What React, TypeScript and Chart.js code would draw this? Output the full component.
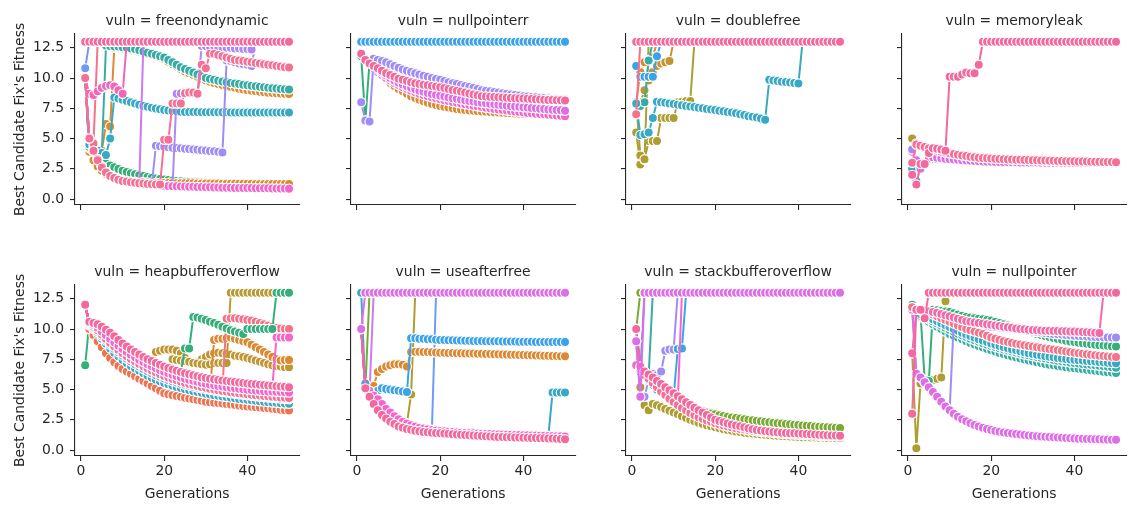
import React, { useEffect, useRef } from 'react';
import { Chart, registerables } from 'chart.js';

Chart.register(...registerables);

// ---------------- data ----------------
const generations = [
  1, 2, 3, 4, 5, 6, 7, 8, 9, 10, 11, 12, 13, 14, 15, 16, 17, 18, 19, 20,
  21, 22, 23, 24, 25, 26, 27, 28, 29, 30, 31, 32, 33, 34, 35, 36, 37, 38, 39, 40,
  41, 42, 43, 44, 45, 46, 47, 48, 49, 50,
];
const yTickValues = [0, 2.5, 5, 7.5, 10, 12.5];
const xTickValues = [0, 20, 40];
const facetVar = 'vuln';
const facetNames = [
  'freenondynamic', 'nullpointerr', 'doublefree', 'memoryleak',
  'heapbufferoverflow', 'useafterfree', 'stackbufferoverflow', 'nullpointer',
];
const xTitle = 'Generations';
const yTitle = "Best Candidate Fix's Fitness";

// --- freenondynamic ---
const fnd_olive = [
  10.0, 4.3, 3.4, 2.8, 2.4, 2.1, 1.85, 1.68, 1.55, 1.45,
  1.37, 1.3, 1.25, 1.2, 1.16, 1.13, 1.1, 1.08, 1.06, 1.04,
  1.03, 1.02, 1.01, 1.0, 1.0, 0.99, 0.99, 0.98, 0.98, 0.97,
  0.97, 0.96, 0.96, 0.95, 0.95, 0.95, 0.94, 0.94, 0.94, 0.93,
  0.93, 0.93, 0.92, 0.92, 0.92, 0.91, 0.91, 0.91, 0.9, 0.9,
];
const fnd_green = [
  10.0, 4.0, 3.7, 3.4, 3.15, 2.95, 2.78, 2.62, 2.48, 2.35,
  2.24, 2.14, 2.05, 1.97, 1.9, 1.83, 1.77, 1.71, 1.66, 1.61,
  1.57, 1.53, 1.5, 1.47, 1.44, 1.42, 1.4, 1.38, 1.36, 1.34,
  1.3, 1.29, 1.28, 1.27, 1.26, 1.25, 1.24, 1.23, 1.22, 1.21,
  1.2, 1.19, 1.18, 1.17, 1.16, 1.15, 1.14, 1.13, 1.12, 1.12,
];
const fnd_orangeLow = [
  10.0, 3.9, 3.2, 2.7, 2.35, 2.08, 1.88, 1.74, 1.63, 1.55,
  1.5, 1.46, 1.43, 1.41, 1.39, 1.37, 1.36, 1.35, 1.34, 1.33,
  1.32, 1.32, 1.31, 1.31, 1.3, 1.3, 1.3, 1.29, 1.29, 1.29,
  1.28, 1.28, 1.28, 1.27, 1.27, 1.27, 1.27, 1.26, 1.26, 1.26,
  1.26, 1.25, 1.25, 1.25, 1.25, 1.25, 1.24, 1.24, 1.24, 1.24,
];
const fnd_orange = [
  10.0, 4.2, 3.9, 3.7, 4.0, 6.2, 6.0, 12.5, 12.5, 12.45,
  12.4, 12.35, 12.3, 12.2, 12.1, 12.0, 11.9, 11.8, 11.7, 11.55,
  11.35, 11.15, 10.95, 10.75, 10.55, 10.4, 10.25, 10.1, 9.95, 9.8,
  9.7, 9.6, 9.5, 9.42, 9.34, 9.26, 9.19, 9.12, 9.06, 9.0,
  8.95, 8.9, 8.86, 8.82, 8.79, 8.76, 8.74, 8.72, 8.7, 8.68,
];
const fnd_teal = [
  10.0, 4.3, 4.1, 3.9, 3.8, 12.7, 12.65, 12.6, 12.6, 12.55,
  12.5, 12.45, 12.4, 12.3, 12.2, 12.1, 12.0, 11.9, 11.8, 11.7,
  11.5, 11.3, 11.1, 10.9, 10.75, 10.6, 10.45, 10.3, 10.15, 10.0,
  9.92, 9.85, 9.78, 9.72, 9.66, 9.6, 9.55, 9.5, 9.45, 9.4,
  9.36, 9.32, 9.28, 9.24, 9.2, 9.16, 9.13, 9.1, 9.07, 9.05,
];
const fnd_cyan = [
  10.0, 4.5, 4.3, 4.0, 3.8, 3.65, 5.0, 8.4, 8.3, 8.2,
  8.1, 8.0, 7.9, 7.8, 7.7, 7.62, 7.55, 7.48, 7.42, 7.36,
  7.32, 7.28, 7.25, 7.22, 7.2, 7.2, 7.19, 7.19, 7.18, 7.18,
  7.18, 7.17, 7.17, 7.17, 7.17, 7.16, 7.16, 7.16, 7.16, 7.16,
  7.15, 7.15, 7.15, 7.15, 7.15, 7.15, 7.15, 7.15, 7.15, 7.15,
];
const fnd_blue = [
  10.8, 13, 13, 13, 13, 13, 13, 13, 13, 13,
  13, 13, 13, 13, 13, 13, 13, 13, 13, 13,
  13, 13, 13, 13, 13, 13, 13, 13, 13, 13,
  13, 13, 13, 13, 13, 13, 13, 13, 13, 13,
  13, 13, 13, 13, 13, 13, 13, 13, 13, 13,
];
const fnd_purple = [
  10.0, 5.0, 4.0, 3.3, 2.7, 2.25, 1.95, 1.75, 1.6, 1.5,
  1.42, 1.36, 1.3, 1.26, 13, 13, 13, 13, 13, 13,
  13, 13, 13, 13, 13, 13, 13, 13, 13, 13,
  13, 13, 13, 13, 13, 13, 13, 13, 13, 13,
  13, 13, 13, 13, 13, 13, 13, 13, 13, 13,
];
const fnd_lavender = [
  10.0, 5.0, 4.0, 3.3, 2.7, 2.25, 1.95, 1.75, 1.6, 1.5,
  1.42, 1.36, 1.3, 1.26, 1.22, 1.19, 1.16, 4.4, 4.36, 4.32,
  4.28, 4.25, 4.22, 4.19, 4.16, 4.13, 4.1, 4.07, 4.04, 4.01,
  3.98, 3.95, 3.9, 3.85, 11.45, 11.4, 11.3, 11.2, 11.15, 11.1,
  11.0, 13, 13, 13, 13, 13, 13, 13, 13, 13,
];
const fnd_lilac = [
  10.0, 5.0, 4.0, 3.3, 2.7, 2.25, 1.95, 1.75, 1.6, 1.5,
  1.42, 1.36, 1.3, 1.26, 1.22, 1.19, 1.16, 1.14, 1.12, 1.1,
  1.08, 1.06, 8.7, 8.75, 8.8, 8.8, 8.75, 8.7, 12.65, 12.65,
  12.6, 12.6, 12.55, 12.55, 12.5, 12.5, 12.45, 12.45, 12.4, 12.4,
  12.35, 13, 13, 13, 13, 13, 13, 13, 13, 13,
];
const fnd_red = [
  10.0, 5.1, 4.6, 13, 13, 13, 13, 13, 13, 13,
  13, 13, 13, 13, 13, 13, 13, 13, 13, 13,
  13, 13, 13, 13, 13, 13, 13, 13, 13, 13,
  13, 13, 13, 13, 13, 13, 13, 13, 13, 13,
  13, 13, 13, 13, 13, 13, 13, 13, 13, 13,
];
const fnd_magenta = [
  10.0, 5.0, 4.0, 3.3, 2.7, 2.25, 1.95, 1.75, 1.6, 1.5,
  1.42, 1.36, 1.3, 1.26, 1.22, 1.19, 1.16, 1.14, 1.12, 1.1,
  1.08, 1.06, 1.05, 1.04, 1.03, 1.02, 1.01, 1.0, 0.99, 0.98,
  0.97, 0.96, 0.95, 0.94, 0.935, 0.93, 0.925, 0.92, 0.915, 0.91,
  0.905, 0.9, 0.895, 0.89, 0.885, 0.88, 0.875, 0.87, 0.865, 0.86,
];
const fnd_rose = [
  10.0, 8.7, 8.6, 8.9, 9.2, 9.35, 9.4, 9.3, 9.0, 8.7,
  13, 13, 13, 13, 13, 13, 13, 13, 13, 13,
  13, 13, 13, 13, 13, 13, 13, 13, 13, 13,
  13, 13, 13, 13, 13, 13, 13, 13, 13, 13,
  13, 13, 13, 13, 13, 13, 13, 13, 13, 13,
];
const fnd_pink2 = [
  10.0, 5.0, 4.0, 3.2, 2.6, 2.2, 1.9, 1.75, 1.6, 1.5,
  1.45, 1.4, 1.35, 1.3, 1.28, 1.25, 1.22, 1.2, 1.2, 4.9,
  4.9, 7.9, 7.9, 7.9, 8.75, 8.8, 8.8, 8.7, 11.1, 10.8,
  12.0, 12.0, 11.9, 11.8, 11.7, 11.6, 11.5, 11.45, 11.4, 11.35,
  11.3, 11.25, 11.2, 11.15, 11.1, 11.05, 11.0, 10.95, 10.9, 10.88,
];
const fnd_top = [
  13, 13, 13, 13, 13, 13, 13, 13, 13, 13,
  13, 13, 13, 13, 13, 13, 13, 13, 13, 13,
  13, 13, 13, 13, 13, 13, 13, 13, 13, 13,
  13, 13, 13, 13, 13, 13, 13, 13, 13, 13,
  13, 13, 13, 13, 13, 13, 13, 13, 13, 13,
];

// --- nullpointerr ---
const npr_orange = [
  12.0, 11.4, 11.1, 10.8, 10.5, 10.2, 9.9, 9.6, 9.35, 9.1,
  8.9, 8.7, 8.5, 8.35, 8.2, 8.08, 7.96, 7.86, 7.77, 7.69,
  7.62, 7.56, 7.5, 7.45, 7.4, 7.36, 7.32, 7.29, 7.26, 7.23,
  7.21, 7.19, 7.17, 7.15, 7.13, 7.11, 7.09, 7.07, 7.05, 7.04,
  7.02, 7.0, 6.99, 6.97, 6.96, 6.94, 6.93, 6.91, 6.9, 6.89,
];
const npr_magenta2 = [
  12.0, 11.4, 11.1, 10.8, 10.5, 10.25, 10.0, 9.8, 9.6, 9.42,
  9.25, 9.1, 8.96, 8.83, 8.71, 8.6, 8.5, 8.41, 8.33, 8.25,
  8.17, 8.1, 8.03, 7.96, 7.9, 7.84, 7.78, 7.72, 7.66, 7.6,
  7.55, 7.5, 7.45, 7.4, 7.36, 7.32, 7.28, 7.24, 7.2, 7.16,
  7.12, 7.09, 7.06, 7.03, 7.0, 6.97, 6.94, 6.91, 6.88, 6.85,
];
const npr_magenta = [
  12.0, 11.45, 11.2, 10.95, 10.7, 10.45, 10.22, 10.0, 9.8, 9.62,
  9.46, 9.32, 9.19, 9.07, 8.96, 8.86, 8.77, 8.69, 8.61, 8.54,
  8.47, 8.4, 8.34, 8.28, 8.22, 8.16, 8.11, 8.06, 8.01, 7.96,
  7.92, 7.88, 7.84, 7.8, 7.76, 7.72, 7.68, 7.65, 7.62, 7.59,
  7.56, 7.53, 7.5, 7.47, 7.44, 7.41, 7.38, 7.36, 7.33, 7.3,
];
const npr_green = [
  11.8, 6.5, 11.3, 11.2, 11.05, 10.9, 10.75, 10.6, 10.45, 10.3,
  10.2, 10.1, 10.0, 9.9, 9.8, 9.72, 9.64, 9.56, 9.48, 9.4,
  9.32, 9.25, 9.18, 9.1, 9.03, 8.96, 8.9, 8.84, 8.78, 8.72,
  8.67, 8.62, 8.58, 8.54, 8.5, 8.47, 8.44, 8.41, 8.38, 8.36,
  8.34, 8.32, 8.3, 8.28, 8.26, 8.25, 8.24, 8.23, 8.22, 8.21,
];
const npr_lavender = [
  8.0, 6.5, 6.4, 11.6, 11.5, 11.4, 11.3, 11.15, 11.0, 10.85,
  10.7, 10.6, 10.5, 10.4, 10.3, 10.2, 10.1, 10.0, 9.92, 9.85,
  9.75, 9.65, 9.58, 9.5, 9.42, 9.35, 9.28, 9.2, 9.1, 9.0,
  8.95, 8.9, 8.85, 8.8, 8.75, 8.7, 8.65, 8.6, 8.55, 8.5,
  8.47, 8.44, 8.41, 8.38, 8.35, 8.32, 8.29, 8.26, 8.23, 8.2,
];
const npr_pink = [
  12.0, 11.5, 11.2, 11.0, 10.8, 10.6, 10.4, 10.25, 10.1, 9.95,
  9.85, 9.75, 9.65, 9.58, 9.5, 9.45, 9.4, 9.35, 9.3, 9.25,
  9.17, 9.1, 9.02, 8.95, 8.88, 8.8, 8.72, 8.65, 8.58, 8.5,
  8.48, 8.46, 8.44, 8.42, 8.4, 8.38, 8.36, 8.34, 8.32, 8.3,
  8.28, 8.26, 8.24, 8.22, 8.2, 8.19, 8.18, 8.17, 8.16, 8.15,
];
const npr_top = [
  13, 13, 13, 13, 13, 13, 13, 13, 13, 13,
  13, 13, 13, 13, 13, 13, 13, 13, 13, 13,
  13, 13, 13, 13, 13, 13, 13, 13, 13, 13,
  13, 13, 13, 13, 13, 13, 13, 13, 13, 13,
  13, 13, 13, 13, 13, 13, 13, 13, 13, 13,
];

// --- doublefree ---
const df_olive = [
  5.5, 2.85, 3.25, 4.8, 4.8, 4.8, 6.7, 6.7, 6.7, 6.7,
  8.0, 8.05, 8.1, 8.1, 13, 13, 13, 13, 13, 13,
  13, 13, 13, 13, 13, 13, 13, 13, 13, 13,
  13, 13, 13, 13, 13, 13, 13, 13, 13, 13,
  13, 13, 13, 13, 13, 13, 13, 13, 13, 13,
];
const df_olive2 = [
  8.0, 3.6, 3.3, 13, 13, 13, 13, 13, 13, 13,
  13, 13, 13, 13, 13, 13, 13, 13, 13, 13,
  13, 13, 13, 13, 13, 13, 13, 13, 13, 13,
  13, 13, 13, 13, 13, 13, 13, 13, 13, 13,
  13, 13, 13, 13, 13, 13, 13, 13, 13, 13,
];
const df_ochre = [
  8.0, 8.0, 9.0, 9.8, 10.5, 11.0, 11.2, 11.3, 11.4, 13,
  13, 13, 13, 13, 13, 13, 13, 13, 13, 13,
  13, 13, 13, 13, 13, 13, 13, 13, 13, 13,
  13, 13, 13, 13, 13, 13, 13, 13, 13, 13,
  13, 13, 13, 13, 13, 13, 13, 13, 13, 13,
];
const df_orange = [
  8.0, 10.5, 11.3, 11.5, 11.7, 13, 13, 13, 13, 13,
  13, 13, 13, 13, 13, 13, 13, 13, 13, 13,
  13, 13, 13, 13, 13, 13, 13, 13, 13, 13,
  13, 13, 13, 13, 13, 13, 13, 13, 13, 13,
  13, 13, 13, 13, 13, 13, 13, 13, 13, 13,
];
const df_teal = [
  8.0, 7.7, 8.0, 11.45, 13, 13, 13, 13, 13, 13,
  13, 13, 13, 13, 13, 13, 13, 13, 13, 13,
  13, 13, 13, 13, 13, 13, 13, 13, 13, 13,
  13, 13, 13, 13, 13, 13, 13, 13, 13, 13,
  13, 13, 13, 13, 13, 13, 13, 13, 13, 13,
];
const df_cyan = [
  7.9, 5.3, 5.35, 5.5, 6.7, 8.05, 8.0, 7.95, 7.9, 7.85,
  7.8, 7.75, 7.7, 7.65, 7.6, 7.55, 7.5, 7.45, 7.4, 7.35,
  7.3, 7.25, 7.2, 7.15, 7.1, 7.0, 6.95, 6.85, 6.8, 6.75,
  6.65, 6.55, 9.85, 9.8, 9.75, 9.7, 9.67, 9.63, 9.6, 9.55,
  13, 13, 13, 13, 13, 13, 13, 13, 13, 13,
];
const df_azure = [
  11.0, 10.1, 10.1, 10.1, 10.1, 11.8, 13, 13, 13, 13,
  13, 13, 13, 13, 13, 13, 13, 13, 13, 13,
  13, 13, 13, 13, 13, 13, 13, 13, 13, 13,
  13, 13, 13, 13, 13, 13, 13, 13, 13, 13,
  13, 13, 13, 13, 13, 13, 13, 13, 13, 13,
];
const df_red = [
  7.0, 13, 13, 13, 13, 13, 13, 13, 13, 13,
  13, 13, 13, 13, 13, 13, 13, 13, 13, 13,
  13, 13, 13, 13, 13, 13, 13, 13, 13, 13,
  13, 13, 13, 13, 13, 13, 13, 13, 13, 13,
  13, 13, 13, 13, 13, 13, 13, 13, 13, 13,
];
const df_top = [
  13, 13, 13, 13, 13, 13, 13, 13, 13, 13,
  13, 13, 13, 13, 13, 13, 13, 13, 13, 13,
  13, 13, 13, 13, 13, 13, 13, 13, 13, 13,
  13, 13, 13, 13, 13, 13, 13, 13, 13, 13,
  13, 13, 13, 13, 13, 13, 13, 13, 13, 13,
];

// --- memoryleak ---
const ml_cyan = [
  2.5, 1.5, 2.6, 3.0, 3.2, 3.3, 3.3, 3.3, 3.28, 3.26,
  3.24, 3.22, 3.2, 3.19, 3.18, 3.17, 3.16, 3.15, 3.14, 3.13,
  3.12, 3.11, 3.1, 3.1, 3.09, 3.08, 3.08, 3.07, 3.06, 3.06,
  3.05, 3.05, 3.04, 3.04, 3.03, 3.03, 3.02, 3.02, 3.01, 3.01,
  3.0, 3.0, 3.0, 2.99, 2.99, 2.99, 2.98, 2.98, 2.98, 2.97,
];
const ml_olive = [
  5.0, 4.4, 4.3, 4.2, 4.1, 4.0, 3.92, 3.85, 3.78, 3.72,
  3.66, 3.6, 3.55, 3.5, 3.46, 3.42, 3.39, 3.36, 3.34, 3.32,
  3.3, 3.28, 3.26, 3.25, 3.24, 3.23, 3.22, 3.21, 3.2, 3.19,
  3.18, 3.17, 3.16, 3.15, 3.14, 3.14, 3.13, 3.12, 3.12, 3.11,
  3.1, 3.1, 3.09, 3.09, 3.08, 3.08, 3.07, 3.07, 3.06, 3.06,
];
const ml_magenta = [
  3.9, 3.2, 2.5, 3.0, 3.35, 3.45, 3.42, 3.38, 3.34, 3.3,
  3.27, 3.24, 3.21, 3.18, 3.16, 3.14, 3.12, 3.1, 3.09, 3.08,
  3.07, 3.06, 3.05, 3.05, 3.04, 3.04, 3.03, 3.03, 3.02, 3.02,
  3.02, 3.01, 3.01, 3.01, 3.0, 3.0, 3.0, 3.0, 2.99, 2.99,
  2.99, 2.99, 2.98, 2.98, 2.98, 2.98, 2.97, 2.97, 2.97, 2.97,
];
const ml_lavender = [
  4.1, 4.6, 4.45, 4.35, 4.25, 4.15, 4.05, 3.97, 3.9, 3.83,
  3.77, 3.71, 3.65, 3.6, 3.55, 3.51, 3.47, 3.44, 3.41, 3.39,
  3.37, 3.35, 3.33, 3.31, 3.29, 3.28, 3.27, 3.26, 3.25, 3.24,
  3.23, 3.22, 3.21, 3.2, 3.19, 3.18, 3.17, 3.16, 3.15, 3.15,
  3.14, 3.13, 3.13, 3.12, 3.11, 3.11, 3.1, 3.09, 3.09, 3.08,
];
const ml_pink2 = [
  3.0, 4.5, 4.4, 4.3, 4.2, 4.1, 4.0, 3.92, 3.85, 3.78,
  3.72, 3.66, 3.6, 3.55, 3.5, 3.46, 3.42, 3.4, 3.38, 3.36,
  3.34, 3.32, 3.3, 3.28, 3.26, 3.25, 3.24, 3.23, 3.22, 3.21,
  3.2, 3.19, 3.18, 3.17, 3.16, 3.15, 3.14, 3.13, 3.12, 3.12,
  3.11, 3.1, 3.1, 3.09, 3.08, 3.08, 3.07, 3.06, 3.06, 3.05,
];
const ml_pinkUp = [
  2.0, 1.2, 2.9, 2.9, 3.8, 4.2, 4.15, 4.1, 4.0, 10.1,
  10.1, 10.1, 10.3, 10.45, 10.4, 10.4, 11.1, 13, 13, 13,
  13, 13, 13, 13, 13, 13, 13, 13, 13, 13,
  13, 13, 13, 13, 13, 13, 13, 13, 13, 13,
  13, 13, 13, 13, 13, 13, 13, 13, 13, 13,
];

// --- heapbufferoverflow ---
const hb_ochre1 = [
  12.0, 10.5, 10.35, 10.1, 9.8, 9.5, 9.2, 8.9, 8.62, 8.35,
  8.1, 7.87, 7.66, 7.46, 7.27, 7.09, 6.92, 8.1, 8.2, 8.3,
  8.3, 8.3, 8.2, 8.0, 7.6, 7.3, 7.25, 7.3, 7.5, 7.7,
  7.9, 8.0, 8.05, 8.0, 7.95, 7.9, 7.8, 7.75, 7.7, 7.6,
  7.5, 7.4, 7.3, 7.2, 7.1, 7.0, 6.95, 6.9, 6.85, 6.85,
];
const hb_ochre2 = [
  12.0, 10.4, 10.2, 9.9, 9.55, 9.2, 8.87, 8.56, 8.27, 8.0,
  7.75, 7.52, 7.31, 7.11, 6.92, 6.74, 6.57, 6.41, 6.26, 6.12,
  5.99, 7.5, 7.45, 7.4, 7.35, 7.3, 7.2, 7.15, 7.1, 7.05,
  7.1, 7.2, 7.2, 7.2, 7.2, 13, 13, 13, 13, 13,
  13, 13, 13, 13, 13, 13, 13, 13, 13, 13,
];
const hb_orange = [
  12.0, 10.35, 10.1, 9.75, 9.4, 9.05, 8.7, 8.38, 8.08, 7.8,
  7.55, 7.31, 7.1, 6.9, 6.7, 6.52, 6.35, 6.19, 6.05, 5.92,
  5.8, 5.69, 5.59, 5.49, 5.4, 5.32, 5.24, 5.17, 5.1, 5.03,
  4.97, 9.1, 9.2, 9.2, 9.25, 9.3, 9.2, 9.1, 9.0, 8.9,
  8.7, 8.5, 8.3, 8.1, 7.9, 7.7, 7.5, 7.4, 7.45, 7.45,
];
const hb_pinkred = [
  12.0, 10.5, 10.35, 10.1, 9.8, 9.5, 9.2, 8.9, 8.62, 8.35,
  8.1, 7.87, 7.66, 7.46, 7.27, 7.09, 6.92, 6.76, 6.61, 6.47,
  6.34, 6.22, 6.11, 6.0, 5.9, 5.81, 5.72, 5.64, 5.56, 5.49,
  5.42, 5.36, 5.3, 5.25, 10.85, 10.9, 10.9, 10.85, 10.8, 10.75,
  10.7, 10.6, 10.5, 10.4, 10.3, 10.2, 10.1, 10.05, 10.0, 10.0,
];
const hb_green = [
  7.0, 10.6, 10.5, 10.4, 10.2, 9.95, 9.7, 9.4, 9.1, 8.8,
  8.55, 8.3, 8.1, 7.9, 7.7, 7.5, 7.35, 7.2, 7.05, 6.9,
  6.78, 6.66, 6.55, 6.45, 8.4, 8.4, 11.0, 10.95, 10.85, 10.75,
  10.6, 10.5, 10.35, 10.2, 10.05, 9.9, 9.8, 9.7, 9.6, 10.0,
  10.0, 10.0, 10.0, 10.0, 10.0, 10.0, 13, 13, 13, 13,
];
const hb_magenta2 = [
  12.0, 10.55, 10.4, 10.2, 9.95, 9.7, 9.45, 9.18, 8.9, 8.63,
  8.38, 8.14, 7.92, 7.72, 7.52, 7.34, 7.17, 7.01, 6.86, 6.72,
  6.59, 6.47, 6.36, 6.26, 6.16, 6.07, 5.99, 5.91, 5.84, 5.77,
  5.71, 5.66, 5.61, 5.56, 5.52, 5.48, 5.45, 5.42, 5.39, 5.37,
  5.35, 5.33, 5.31, 5.29, 5.28, 5.27, 9.3, 9.3, 9.3, 9.3,
];
const hb_red = [
  12.0, 10.0, 9.5, 9.0, 8.5, 8.0, 7.6, 7.25, 6.95, 6.7,
  6.5, 6.3, 6.1, 5.9, 5.7, 5.5, 5.3, 5.1, 4.9, 4.7,
  4.62, 4.54, 4.47, 4.4, 4.33, 4.26, 4.2, 4.14, 4.08, 4.0,
  3.96, 3.92, 3.88, 3.84, 3.8, 3.76, 3.72, 3.68, 3.64, 3.6,
  3.57, 3.54, 3.51, 3.48, 3.45, 3.42, 3.38, 3.34, 3.3, 3.27,
];
const hb_cyan = [
  12.0, 10.3, 10.0, 9.6, 9.2, 8.8, 8.4, 8.05, 7.75, 7.45,
  7.2, 6.95, 6.75, 6.55, 6.35, 6.15, 5.98, 5.82, 5.68, 5.55,
  5.43, 5.32, 5.22, 5.12, 5.03, 4.95, 4.87, 4.8, 4.73, 4.66,
  4.6, 4.54, 4.48, 4.43, 4.38, 4.33, 4.28, 4.23, 4.19, 4.15,
  4.11, 4.07, 4.03, 4.0, 3.96, 3.93, 3.9, 3.87, 3.85, 3.82,
];
const hb_blue = [
  12.0, 10.35, 10.1, 9.75, 9.4, 9.05, 8.7, 8.38, 8.08, 7.8,
  7.55, 7.31, 7.1, 6.9, 6.7, 6.52, 6.35, 6.19, 6.05, 5.92,
  5.8, 5.69, 5.59, 5.49, 5.4, 5.32, 5.24, 5.17, 5.1, 5.03,
  4.97, 4.91, 4.85, 4.8, 4.75, 4.7, 4.65, 4.6, 4.56, 4.52,
  4.48, 4.44, 4.4, 4.37, 4.34, 4.31, 4.28, 4.25, 4.22, 4.2,
];
const hb_pink2 = [
  12.0, 10.4, 10.2, 9.9, 9.55, 9.2, 8.87, 8.56, 8.27, 8.0,
  7.75, 7.52, 7.31, 7.11, 6.92, 6.74, 6.57, 6.41, 6.26, 6.12,
  5.99, 5.87, 5.76, 5.65, 5.55, 5.46, 5.37, 5.29, 5.21, 5.14,
  5.07, 5.0, 4.94, 4.88, 4.83, 4.78, 4.73, 4.69, 4.65, 4.61,
  4.57, 4.53, 4.5, 4.47, 4.44, 4.41, 4.38, 4.35, 4.32, 4.3,
];
const hb_magenta = [
  12.0, 10.5, 10.35, 10.1, 9.8, 9.5, 9.2, 8.9, 8.62, 8.35,
  8.1, 7.87, 7.66, 7.46, 7.27, 7.09, 6.92, 6.76, 6.61, 6.47,
  6.34, 6.22, 6.11, 6.0, 5.9, 5.81, 5.72, 5.64, 5.56, 5.49,
  5.42, 5.36, 5.3, 5.25, 5.2, 5.15, 5.11, 5.07, 5.03, 4.99,
  4.96, 4.93, 4.9, 4.87, 4.85, 4.83, 4.81, 4.79, 4.77, 4.75,
];
const hb_pink = [
  12.0, 10.6, 10.5, 10.4, 10.2, 9.95, 9.7, 9.4, 9.1, 8.8,
  8.55, 8.3, 8.1, 7.9, 7.7, 7.5, 7.35, 7.2, 7.05, 6.9,
  6.78, 6.66, 6.55, 6.45, 6.35, 6.26, 6.18, 6.1, 6.02, 5.95,
  5.9, 5.85, 5.8, 5.75, 5.7, 5.66, 5.62, 5.58, 5.54, 5.5,
  5.46, 5.43, 5.4, 5.37, 5.34, 5.31, 5.28, 5.25, 5.23, 5.2,
];

// --- useafterfree ---
const uf_olive = [
  10.0, 5.0, 4.9, 4.5, 4.2, 3.8, 3.4, 3.1, 2.8, 2.55,
  2.35, 2.2, 4.6, 13, 13, 13, 13, 13, 13, 13,
  13, 13, 13, 13, 13, 13, 13, 13, 13, 13,
  13, 13, 13, 13, 13, 13, 13, 13, 13, 13,
  13, 13, 13, 13, 13, 13, 13, 13, 13, 13,
];
const uf_green = [
  10.0, 5.0, 13, 13, 13, 13, 13, 13, 13, 13,
  13, 13, 13, 13, 13, 13, 13, 13, 13, 13,
  13, 13, 13, 13, 13, 13, 13, 13, 13, 13,
  13, 13, 13, 13, 13, 13, 13, 13, 13, 13,
  13, 13, 13, 13, 13, 13, 13, 13, 13, 13,
];
const uf_purple = [
  10.0, 5.0, 4.7, 13, 13, 13, 13, 13, 13, 13,
  13, 13, 13, 13, 13, 13, 13, 13, 13, 13,
  13, 13, 13, 13, 13, 13, 13, 13, 13, 13,
  13, 13, 13, 13, 13, 13, 13, 13, 13, 13,
  13, 13, 13, 13, 13, 13, 13, 13, 13, 13,
];
const uf_blue = [
  10.0, 5.0, 4.9, 4.5, 4.2, 3.8, 3.4, 3.1, 2.8, 2.55,
  2.35, 2.2, 2.05, 1.95, 1.85, 1.78, 1.72, 1.66, 13, 13,
  13, 13, 13, 13, 13, 13, 13, 13, 13, 13,
  13, 13, 13, 13, 13, 13, 13, 13, 13, 13,
  13, 13, 13, 13, 13, 13, 13, 13, 13, 13,
];
const uf_orange = [
  10.0, 5.0, 4.7, 5.3, 6.45, 6.7, 6.9, 7.0, 7.1, 7.1,
  7.05, 6.9, 8.1, 8.12, 8.12, 8.1, 8.1, 8.08, 8.06, 8.05,
  8.04, 8.03, 8.02, 8.01, 8.0, 7.99, 7.98, 7.97, 7.96, 7.95,
  7.94, 7.93, 7.92, 7.91, 7.9, 7.89, 7.88, 7.87, 7.86, 7.85,
  7.84, 7.83, 7.82, 7.81, 7.8, 7.79, 7.78, 7.77, 7.76, 7.75,
];
const uf_azure = [
  10.0, 5.5, 4.5, 4.2, 4.9, 5.1, 5.05, 5.0, 4.95, 4.9,
  4.85, 4.8, 9.25, 9.25, 9.2, 9.2, 9.15, 9.15, 9.12, 9.1,
  9.09, 9.08, 9.07, 9.06, 9.05, 9.04, 9.03, 9.02, 9.02, 9.01,
  9.0, 9.0, 8.99, 8.99, 8.98, 8.98, 8.97, 8.97, 8.96, 8.96,
  8.95, 8.95, 8.94, 8.94, 8.93, 8.93, 8.93, 8.92, 8.92, 8.92,
];
const uf_cyan = [
  13, 5.0, 4.9, 4.5, 4.2, 3.8, 3.4, 3.1, 2.8, 2.55,
  2.35, 2.2, 2.05, 1.95, 1.85, 1.78, 1.72, 1.66, 1.62, 1.58,
  1.55, 1.52, 1.49, 1.46, 1.44, 1.42, 1.4, 1.38, 1.36, 1.35,
  1.33, 1.32, 1.3, 1.29, 1.28, 1.27, 1.26, 1.25, 1.24, 1.23,
  1.22, 1.21, 1.2, 1.19, 1.18, 1.17, 4.75, 4.75, 4.75, 4.75,
];
const uf_magenta = [
  10.0, 5.0, 4.9, 4.5, 4.2, 3.8, 3.4, 3.1, 2.8, 2.55,
  2.35, 2.2, 2.05, 1.95, 1.85, 1.78, 1.72, 1.66, 1.62, 1.58,
  1.55, 1.52, 1.49, 1.46, 1.44, 1.42, 1.4, 1.38, 1.36, 1.35,
  1.33, 1.32, 1.3, 1.29, 1.28, 1.27, 1.26, 1.25, 1.24, 1.23,
  1.22, 1.21, 1.2, 1.19, 1.18, 1.17, 1.16, 1.15, 1.14, 1.13,
];
const uf_pink = [
  10.0, 5.1, 4.4, 3.8, 3.3, 2.9, 2.6, 2.35, 2.15, 1.95,
  1.85, 1.75, 1.67, 1.6, 1.55, 1.5, 1.47, 1.44, 1.42, 1.4,
  1.37, 1.34, 1.31, 1.28, 1.26, 1.24, 1.22, 1.2, 1.18, 1.16,
  1.14, 1.12, 1.1, 1.09, 1.08, 1.06, 1.05, 1.04, 1.03, 1.02,
  1.01, 1.0, 0.99, 0.98, 0.97, 0.96, 0.95, 0.93, 0.92, 0.9,
];
const uf_top = [
  10.0, 13, 13, 13, 13, 13, 13, 13, 13, 13,
  13, 13, 13, 13, 13, 13, 13, 13, 13, 13,
  13, 13, 13, 13, 13, 13, 13, 13, 13, 13,
  13, 13, 13, 13, 13, 13, 13, 13, 13, 13,
  13, 13, 13, 13, 13, 13, 13, 13, 13, 13,
];

// --- stackbufferoverflow ---
const sb_green1 = [
  10.0, 13, 13, 13, 13, 13, 13, 13, 13, 13,
  13, 13, 13, 13, 13, 13, 13, 13, 13, 13,
  13, 13, 13, 13, 13, 13, 13, 13, 13, 13,
  13, 13, 13, 13, 13, 13, 13, 13, 13, 13,
  13, 13, 13, 13, 13, 13, 13, 13, 13, 13,
];
const sb_teal = [
  10.0, 6.9, 6.5, 6.2, 13, 13, 13, 13, 13, 13,
  13, 13, 13, 13, 13, 13, 13, 13, 13, 13,
  13, 13, 13, 13, 13, 13, 13, 13, 13, 13,
  13, 13, 13, 13, 13, 13, 13, 13, 13, 13,
  13, 13, 13, 13, 13, 13, 13, 13, 13, 13,
];
const sb_azure1 = [
  10.0, 6.5, 13, 13, 13, 13, 13, 13, 13, 13,
  13, 13, 13, 13, 13, 13, 13, 13, 13, 13,
  13, 13, 13, 13, 13, 13, 13, 13, 13, 13,
  13, 13, 13, 13, 13, 13, 13, 13, 13, 13,
  13, 13, 13, 13, 13, 13, 13, 13, 13, 13,
];
const sb_olive = [
  9.0, 5.2, 3.7, 3.3, 3.8, 3.7, 3.55, 3.4, 3.25, 3.1,
  2.95, 2.8, 2.65, 2.5, 2.38, 2.26, 2.15, 2.05, 1.96, 1.88,
  1.8, 1.73, 1.66, 1.6, 1.54, 1.49, 1.44, 1.4, 1.36, 1.32,
  1.29, 1.26, 1.23, 1.2, 1.18, 1.16, 1.14, 1.12, 1.1, 1.08,
  1.06, 1.05, 1.04, 1.03, 1.02, 1.01, 1.0, 0.99, 0.98, 0.97,
];
const sb_lavender = [
  9.0, 4.4, 4.4, 5.8, 6.3, 6.2, 6.5, 8.2, 8.3, 8.3,
  13, 13, 13, 13, 13, 13, 13, 13, 13, 13,
  13, 13, 13, 13, 13, 13, 13, 13, 13, 13,
  13, 13, 13, 13, 13, 13, 13, 13, 13, 13,
  13, 13, 13, 13, 13, 13, 13, 13, 13, 13,
];
const sb_azure = [
  10.0, 6.9, 6.3, 5.8, 5.4, 5.0, 4.8, 4.6, 4.5, 4.4,
  8.35, 8.4, 13, 13, 13, 13, 13, 13, 13, 13,
  13, 13, 13, 13, 13, 13, 13, 13, 13, 13,
  13, 13, 13, 13, 13, 13, 13, 13, 13, 13,
  13, 13, 13, 13, 13, 13, 13, 13, 13, 13,
];
const sb_magenta = [
  7.0, 6.7, 6.3, 5.9, 5.6, 5.3, 5.0, 4.75, 4.5, 4.25,
  4.0, 13, 13, 13, 13, 13, 13, 13, 13, 13,
  13, 13, 13, 13, 13, 13, 13, 13, 13, 13,
  13, 13, 13, 13, 13, 13, 13, 13, 13, 13,
  13, 13, 13, 13, 13, 13, 13, 13, 13, 13,
];
const sb_green2 = [
  9.0, 6.8, 6.4, 6.1, 5.8, 5.5, 5.2, 4.95, 4.7, 4.45,
  4.22, 4.0, 3.8, 3.62, 3.45, 3.32, 3.2, 3.1, 3.02, 2.95,
  2.88, 2.82, 2.76, 2.7, 2.65, 2.6, 2.55, 2.5, 2.46, 2.42,
  2.38, 2.34, 2.3, 2.26, 2.22, 2.19, 2.16, 2.13, 2.1, 2.07,
  2.04, 2.01, 1.98, 1.95, 1.93, 1.91, 1.89, 1.87, 1.85, 1.83,
];
const sb_pink2 = [
  10.0, 6.7, 6.2, 5.9, 5.55, 5.2, 4.85, 4.55, 4.25, 3.98,
  3.72, 3.48, 3.26, 3.06, 2.88, 2.72, 2.58, 2.45, 2.33, 2.22,
  2.12, 2.03, 1.95, 1.88, 1.81, 1.75, 1.69, 1.64, 1.59, 1.55,
  1.51, 1.47, 1.44, 1.41, 1.38, 1.35, 1.33, 1.31, 1.29, 1.27,
  1.25, 1.23, 1.21, 1.19, 1.17, 1.16, 1.15, 1.14, 1.13, 1.12,
];
const sb_pink = [
  10.0, 6.9, 6.5, 6.25, 6.0, 5.7, 5.45, 5.2, 4.95, 4.7,
  4.45, 4.2, 3.95, 3.72, 3.5, 3.3, 3.1, 2.9, 2.7, 2.5,
  2.4, 2.3, 2.2, 2.12, 2.04, 1.96, 1.88, 1.8, 1.73, 1.66,
  1.62, 1.58, 1.54, 1.5, 1.47, 1.44, 1.42, 1.4, 1.38, 1.36,
  1.34, 1.32, 1.3, 1.28, 1.26, 1.24, 1.22, 1.21, 1.2, 1.18,
];
const sb_top = [
  9.0, 4.4, 13, 13, 13, 13, 13, 13, 13, 13,
  13, 13, 13, 13, 13, 13, 13, 13, 13, 13,
  13, 13, 13, 13, 13, 13, 13, 13, 13, 13,
  13, 13, 13, 13, 13, 13, 13, 13, 13, 13,
  13, 13, 13, 13, 13, 13, 13, 13, 13, 13,
];

// --- nullpointer ---
const np_olive = [
  8.0, 0.15, 5.5, 5.6, 5.7, 5.8, 5.9, 6.0, 12.3, 13,
  13, 13, 13, 13, 13, 13, 13, 13, 13, 13,
  13, 13, 13, 13, 13, 13, 13, 13, 13, 13,
  13, 13, 13, 13, 13, 13, 13, 13, 13, 13,
  13, 13, 13, 13, 13, 13, 13, 13, 13, 13,
];
const np_green = [
  11.8, 11.5, 11.3, 5.8, 5.7, 11.6, 11.55, 11.5, 11.45, 11.4,
  11.3, 11.2, 11.1, 11.0, 10.95, 10.9, 10.85, 10.8, 10.75, 10.7,
  10.6, 10.5, 10.4, 10.3, 10.2, 10.1, 10.0, 9.9, 9.8, 9.7,
  9.6, 9.5, 9.42, 9.34, 9.26, 9.18, 9.11, 9.04, 8.98, 8.92,
  8.87, 8.82, 8.78, 8.74, 8.7, 8.67, 8.64, 8.61, 8.58, 8.55,
];
const np_teal = [
  12.0, 11.2, 11.0, 10.8, 10.6, 10.4, 10.2, 10.0, 9.8, 9.6,
  9.45, 9.3, 9.15, 9.0, 8.85, 8.72, 8.6, 8.48, 8.36, 8.25,
  8.14, 8.03, 7.93, 7.83, 7.74, 7.65, 7.57, 7.49, 7.41, 7.33,
  7.26, 7.19, 7.12, 7.06, 7.0, 6.95, 6.9, 6.85, 6.8, 6.76,
  6.72, 6.68, 6.64, 6.6, 6.56, 6.52, 6.48, 6.44, 6.4, 6.36,
];
const np_teal2 = [
  11.8, 11.3, 11.1, 10.95, 10.8, 10.62, 10.45, 10.28, 10.1, 9.93,
  9.77, 9.62, 9.48, 9.34, 9.2, 9.07, 8.95, 8.83, 8.72, 8.61,
  8.51, 8.41, 8.32, 8.23, 8.14, 8.06, 7.98, 7.9, 7.83, 7.76,
  7.69, 7.62, 7.56, 7.5, 7.44, 7.39, 7.34, 7.29, 7.24, 7.2,
  7.16, 7.12, 7.08, 7.04, 7.0, 6.96, 6.92, 6.88, 6.84, 6.8,
];
const np_cyan = [
  11.7, 11.4, 11.25, 11.1, 10.95, 10.8, 10.64, 10.48, 10.32, 10.16,
  10.0, 9.85, 9.7, 9.56, 9.42, 9.29, 9.16, 9.04, 8.92, 8.81,
  8.7, 8.6, 8.5, 8.41, 8.32, 8.24, 8.16, 8.08, 8.01, 7.94,
  7.88, 7.82, 7.76, 7.71, 7.66, 7.61, 7.57, 7.53, 7.49, 7.46,
  7.43, 7.4, 7.37, 7.34, 7.31, 7.28, 7.25, 7.22, 7.2, 7.18,
];
const np_lavender = [
  11.6, 6.3, 6.0, 5.6, 5.2, 4.8, 4.4, 4.0, 3.6, 3.3,
  10.6, 10.55, 10.5, 10.45, 10.4, 10.36, 10.32, 10.28, 10.24, 10.2,
  10.16, 10.12, 10.08, 10.04, 10.0, 9.96, 9.92, 9.88, 9.84, 9.8,
  9.76, 9.72, 9.68, 9.64, 9.6, 9.57, 9.54, 9.51, 9.48, 9.45,
  9.43, 9.41, 9.39, 9.37, 9.35, 9.33, 9.32, 9.31, 9.3, 9.3,
];
const np_magenta = [
  11.6, 6.3, 6.0, 5.6, 5.2, 4.8, 4.4, 4.0, 3.6, 3.3,
  3.0, 2.75, 2.55, 2.38, 2.22, 2.08, 1.95, 1.84, 1.74, 1.65,
  1.58, 1.52, 1.46, 1.41, 1.36, 1.32, 1.28, 1.24, 1.21, 1.18,
  1.15, 1.12, 1.1, 1.08, 1.06, 1.04, 1.02, 1.0, 0.98, 0.96,
  0.94, 0.93, 0.92, 0.91, 0.9, 0.89, 0.88, 0.87, 0.86, 0.85,
];
const np_red = [
  11.8, 11.6, 11.55, 11.45, 11.35, 11.2, 11.05, 10.9, 10.75, 10.6,
  10.45, 10.3, 10.15, 10.0, 9.9, 9.8, 9.7, 9.6, 9.45, 9.3,
  9.2, 9.1, 9.0, 8.92, 8.85, 8.78, 8.72, 8.66, 8.6, 8.55,
  8.5, 8.45, 8.4, 8.35, 8.3, 8.25, 8.2, 8.15, 8.1, 8.05,
  8.0, 7.96, 7.92, 7.88, 7.84, 7.8, 7.77, 7.74, 7.72, 7.7,
];
const np_pinkB = [
  8.0, 11.6, 11.55, 11.5, 11.45, 11.4, 11.35, 11.25, 11.15, 11.05,
  10.95, 10.85, 10.75, 10.65, 10.6, 10.55, 10.5, 10.45, 10.4, 10.35,
  10.3, 10.25, 10.2, 10.15, 10.1, 10.05, 10.0, 9.98, 9.95, 9.92,
  9.9, 9.88, 9.86, 9.85, 9.84, 9.83, 9.82, 9.81, 9.8, 9.8,
  9.78, 9.76, 9.74, 9.72, 9.7, 9.68, 13, 13, 13, 13,
];
const np_pinkA = [
  3.0, 11.6, 11.6, 10.9, 13, 13, 13, 13, 13, 13,
  13, 13, 13, 13, 13, 13, 13, 13, 13, 13,
  13, 13, 13, 13, 13, 13, 13, 13, 13, 13,
  13, 13, 13, 13, 13, 13, 13, 13, 13, 13,
  13, 13, 13, 13, 13, 13, 13, 13, 13, 13,
];

// ---------------- styles ----------------
const COL = {
  red: '#f77189',
  redOrange: '#f07350',
  orange: '#dc8932',
  ochre: '#c39532',
  gold: '#b89a31',
  olive: '#ae9d31',
  ygreen: '#77ab31',
  green: '#33b07a',
  teal: '#36ada4',
  cyan: '#38a9c5',
  azure: '#3ba3e8',
  blue: '#6e9bf4',
  lavender: '#a08cf4',
  lilac: '#ad88f4',
  purple: '#cc7af4',
  violet: '#df6de8',
  magenta: '#f565cc',
  rose: '#f266b8',
  pinkB: '#f46aa8',
  pink: '#f5689e',
  pink2: '#f66f95',
};

type Series = { data: number[]; color: string };

const facetSeries: Series[][] = [
  [
    { data: fnd_olive, color: COL.olive },
    { data: fnd_green, color: COL.green },
    { data: fnd_orangeLow, color: COL.orange },
    { data: fnd_orange, color: COL.orange },
    { data: fnd_teal, color: COL.teal },
    { data: fnd_cyan, color: COL.cyan },
    { data: fnd_blue, color: COL.blue },
    { data: fnd_purple, color: COL.purple },
    { data: fnd_lavender, color: COL.lavender },
    { data: fnd_lilac, color: COL.lilac },
    { data: fnd_red, color: COL.red },
    { data: fnd_magenta, color: COL.magenta },
    { data: fnd_rose, color: COL.rose },
    { data: fnd_pink2, color: COL.pink2 },
    { data: fnd_top, color: COL.pink },
  ],
  [
    { data: npr_orange, color: COL.orange },
    { data: npr_magenta2, color: COL.magenta },
    { data: npr_magenta, color: COL.violet },
    { data: npr_green, color: COL.green },
    { data: npr_lavender, color: COL.lavender },
    { data: npr_pink, color: COL.pink },
    { data: npr_top, color: COL.azure },
  ],
  [
    { data: df_olive, color: COL.olive },
    { data: df_olive2, color: COL.olive },
    { data: df_ochre, color: COL.ochre },
    { data: df_orange, color: COL.orange },
    { data: df_teal, color: COL.teal },
    { data: df_cyan, color: COL.cyan },
    { data: df_azure, color: COL.azure },
    { data: df_red, color: COL.red },
    { data: df_top, color: COL.pink },
  ],
  [
    { data: ml_cyan, color: COL.cyan },
    { data: ml_olive, color: COL.olive },
    { data: ml_magenta, color: COL.violet },
    { data: ml_lavender, color: COL.lavender },
    { data: ml_pink2, color: COL.pink2 },
    { data: ml_pinkUp, color: COL.pink },
  ],
  [
    { data: hb_ochre1, color: COL.ochre },
    { data: hb_ochre2, color: COL.gold },
    { data: hb_orange, color: COL.orange },
    { data: hb_pinkred, color: COL.red },
    { data: hb_green, color: COL.green },
    { data: hb_magenta2, color: COL.magenta },
    { data: hb_red, color: COL.redOrange },
    { data: hb_cyan, color: COL.cyan },
    { data: hb_blue, color: COL.blue },
    { data: hb_pink2, color: COL.pink2 },
    { data: hb_magenta, color: COL.magenta },
    { data: hb_pink, color: COL.pink },
  ],
  [
    { data: uf_olive, color: COL.olive },
    { data: uf_green, color: COL.ygreen },
    { data: uf_purple, color: COL.purple },
    { data: uf_blue, color: COL.blue },
    { data: uf_orange, color: COL.orange },
    { data: uf_azure, color: COL.azure },
    { data: uf_cyan, color: COL.cyan },
    { data: uf_magenta, color: COL.magenta },
    { data: uf_pink, color: COL.pink },
    { data: uf_top, color: COL.violet },
  ],
  [
    { data: sb_green1, color: COL.ygreen },
    { data: sb_teal, color: COL.teal },
    { data: sb_azure1, color: COL.azure },
    { data: sb_olive, color: COL.olive },
    { data: sb_lavender, color: COL.lavender },
    { data: sb_azure, color: COL.azure },
    { data: sb_magenta, color: COL.magenta },
    { data: sb_green2, color: COL.ygreen },
    { data: sb_pink2, color: COL.pink2 },
    { data: sb_pink, color: COL.pink },
    { data: sb_top, color: COL.violet },
  ],
  [
    { data: np_olive, color: COL.olive },
    { data: np_green, color: COL.green },
    { data: np_teal, color: COL.teal },
    { data: np_teal2, color: COL.teal },
    { data: np_cyan, color: COL.cyan },
    { data: np_lavender, color: COL.lavender },
    { data: np_magenta, color: COL.violet },
    { data: np_red, color: COL.red },
    { data: np_pinkB, color: COL.pinkB },
    { data: np_pinkA, color: COL.pink },
  ],
];

// ---------------- layout ----------------
const FONT = '"DejaVu Sans", "Liberation Sans", sans-serif';
const FONT_SIZE = 13.9;
const TEXT = '#262626';
const PANEL_LEFT = [75, 351, 626, 902];
const PANEL_TOP = [34, 285];
const PANEL_W = 225;
const PANEL_H = 171;
const Y_AXIS_W = 70;
const TOP_PAD = 34;
const RIGHT_PAD = 5;
const X_AXIS_H = [20, 48];

function FacetChart({ index }: { index: number }) {
  const ref = useRef<HTMLCanvasElement | null>(null);
  const col = index % 4;
  const row = Math.floor(index / 4);
  const width = Y_AXIS_W + PANEL_W + RIGHT_PAD;
  const height = TOP_PAD + PANEL_H + X_AXIS_H[row];

  useEffect(() => {
    const canvas = ref.current;
    if (!canvas) return;
    const series = facetSeries[index];
    const n = series.length;
    const textPlugin = {
      id: 'facetText',
      afterDraw(chart: any) {
        const { ctx, chartArea } = chart;
        ctx.save();
        ctx.fillStyle = TEXT;
        ctx.font = `${FONT_SIZE}px ${FONT}`;
        ctx.textAlign = 'center';
        ctx.textBaseline = 'alphabetic';
        const cx = (chartArea.left + chartArea.right) / 2;
        ctx.fillText(`${facetVar} = ${facetNames[index]}`, cx, chartArea.top - 9);
        if (row === 1) ctx.fillText(xTitle, cx, chartArea.bottom + 42);
        if (col === 0) {
          ctx.translate(chartArea.left - 50.7, (chartArea.top + chartArea.bottom) / 2);
          ctx.rotate(-Math.PI / 2);
          ctx.fillText(yTitle, 0, 0);
        }
        ctx.restore();
      },
    };
    const axisCommon = {
      grid: {
        display: true,
        drawOnChartArea: false,
        drawTicks: true,
        tickLength: 5,
        color: TEXT,
        lineWidth: 1.1,
      },
      border: { display: true, color: TEXT, width: 1.1 },
    };
    const chart = new Chart(canvas, {
      type: 'line',
      data: {
        datasets: series.map((s, i) => ({
          data: s.data.map((v, k) => ({ x: generations[k], y: v })),
          borderColor: s.color,
          backgroundColor: s.color,
          pointBackgroundColor: s.color,
          pointBorderColor: '#ffffff',
          pointRadius: 4.6,
          pointHoverRadius: 4.6,
          pointBorderWidth: 1.2,
          borderWidth: 2,
          tension: 0,
          order: n - i,
        })),
      },
      options: {
        animation: false,
        responsive: false,
        devicePixelRatio: 1,
        events: [],
        layout: { padding: { top: TOP_PAD, right: RIGHT_PAD, left: 0, bottom: 0 } },
        plugins: {
          legend: { display: false },
          tooltip: { enabled: false },
          title: { display: false },
        },
        scales: {
          x: {
            type: 'linear',
            min: -1.45,
            max: 52.45,
            ...axisCommon,
            afterFit: (s: any) => { s.height = X_AXIS_H[row]; },
            afterBuildTicks: (s: any) => { s.ticks = xTickValues.map((v) => ({ value: v })); },
            ticks: {
              autoSkip: false,
              maxRotation: 0,
              padding: 2,
              color: TEXT,
              font: { family: FONT, size: FONT_SIZE },
              callback: (v: any) => (row === 1 ? String(v) : ''),
            },
          },
          y: {
            type: 'linear',
            min: -0.49,
            max: 13.64,
            ...axisCommon,
            afterFit: (s: any) => { s.width = Y_AXIS_W; },
            afterBuildTicks: (s: any) => { s.ticks = yTickValues.map((v) => ({ value: v })); },
            ticks: {
              autoSkip: false,
              padding: 6,
              color: TEXT,
              font: { family: FONT, size: FONT_SIZE },
              callback: (v: any) => (col === 0 ? Number(v).toFixed(1) : ''),
            },
          },
        },
      } as any,
      plugins: [textPlugin],
    });
    return () => chart.destroy();
  }, [index]);

  return (
    <canvas
      ref={ref}
      width={width}
      height={height}
      style={{
        position: 'absolute',
        left: PANEL_LEFT[col] - Y_AXIS_W,
        top: PANEL_TOP[row] - TOP_PAD,
        width,
        height,
      }}
    />
  );
}

export default function App() {
  return (
    <div
      style={{
        position: 'absolute',
        left: 0,
        top: 0,
        width: 1129,
        height: 505,
        overflow: 'hidden',
        background: '#ffffff',
      }}
    >
      {facetNames.map((_, i) => (
        <FacetChart key={i} index={i} />
      ))}
    </div>
  );
}
